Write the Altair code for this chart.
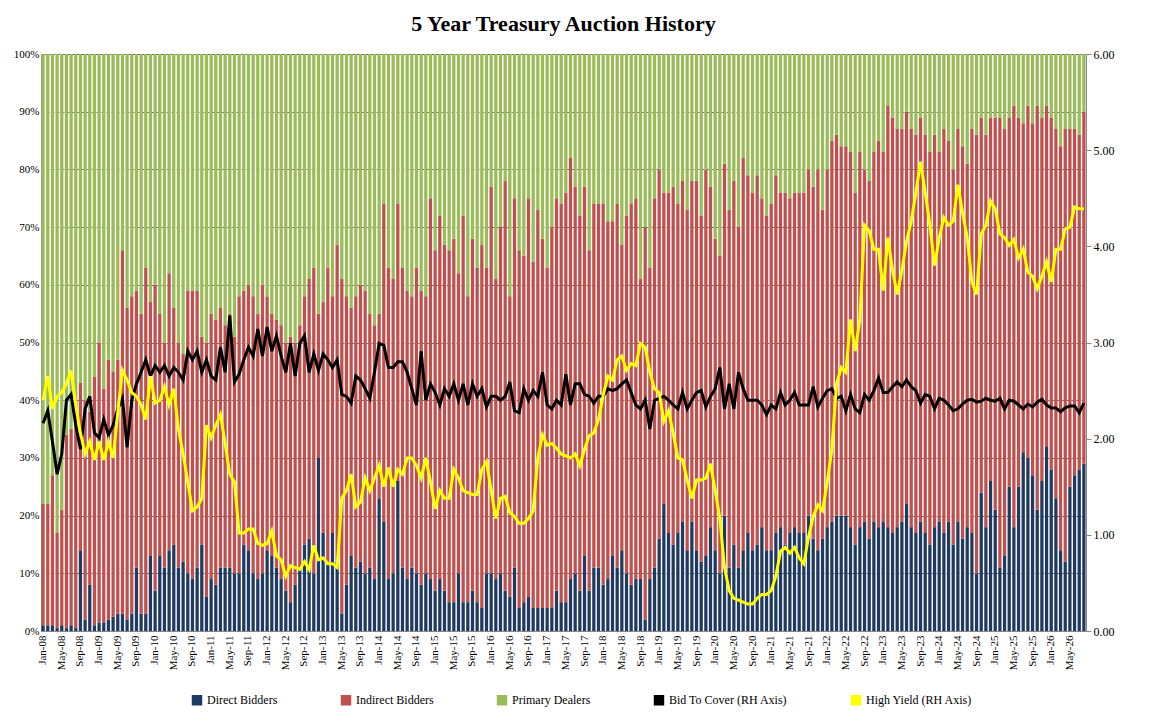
import altair as alt
import pandas as pd

# percent of auction awarded
direct = [
    1, 1, 1, 0.5, 1, 0.5, 1, 0.5, 14, 2, 8, 1,
    1.5, 1.5, 2, 2.5, 3, 3, 2, 3, 11, 3, 3, 13,
    7, 13, 11, 14, 15, 11, 12, 10, 9, 11, 15, 6,
    9, 8, 11, 11, 11, 10, 10, 15, 14, 10, 9, 10,
    14, 13, 11, 9, 7, 5, 8, 11, 15, 16, 10, 30,
    17, 12, 17, 12, 3, 8, 13, 11, 12, 10, 11, 9,
    23, 19, 9, 10, 26, 11, 9, 11, 10, 8, 10, 9,
    7, 9, 7, 5, 5, 10, 5, 5, 7, 5, 4, 10,
    10, 9, 10, 7, 6, 11, 4, 5, 6, 4, 4, 4,
    4, 4, 7, 5, 5, 9, 10, 7, 13, 7, 11, 11,
    8, 9, 13, 11, 14, 10, 8, 9, 9, 2, 9, 11,
    16, 22, 17, 15, 17, 19, 14, 19, 14, 12, 13, 18,
    14, 10, 20, 11, 15, 11, 14, 17, 14, 15, 18, 14,
    14, 17, 18, 15, 17, 18, 17, 17, 20, 16, 14, 16,
    18, 19, 20, 20, 20, 18, 15, 18, 19, 16, 19, 18,
    19, 18, 17, 18, 19, 22, 18, 17, 19, 17, 15, 18,
    19, 17, 19, 15, 19, 16, 18, 17, 10, 24, 18, 26,
    21, 11, 13, 25, 18, 25, 31, 30, 27, 21, 26, 32,
    28, 23, 14, 12, 25, 27, 28, 29,
]
# direct + indirect (top of the red bar)
dir_plus_indirect = [
    22, 22, 27, 17, 21, 34, 35, 40, 43, 40, 38, 44,
    50, 42, 47, 45, 47, 66, 56, 58, 59, 55, 63, 57,
    60, 55, 50, 62, 56, 50, 48, 59, 59, 59, 51, 50,
    55, 54, 56, 53, 55, 51, 58, 59, 60, 58, 55, 60,
    58, 55, 54, 53, 50, 51, 50, 53, 58, 61, 63, 55,
    57, 63, 58, 67, 61, 58, 56, 58, 60, 59, 55, 53,
    55, 74, 63, 61, 74, 63, 59, 58, 63, 59, 58, 75,
    66, 72, 67, 66, 68, 62, 72, 58, 68, 63, 67, 63,
    77, 61, 70, 78, 58, 75, 66, 65, 75, 64, 73, 68,
    63, 70, 75, 74, 76, 82, 77, 72, 77, 66, 74, 74,
    74, 71, 71, 74, 67, 72, 74, 75, 61, 70, 63, 75,
    80, 76, 76, 77, 74, 78, 73, 78, 78, 72, 80, 77,
    68, 65, 81, 73, 78, 70, 82, 79, 76, 79, 75, 72,
    74, 79, 76, 76, 75, 76, 76, 76, 80, 77, 80, 73,
    80, 85, 86, 84, 84, 83, 76, 83, 80, 78, 83, 85,
    83, 91, 89, 87, 87, 90, 87, 86, 89, 86, 83, 86,
    83, 87, 85, 80, 87, 84, 81, 87, 86, 89, 86, 89,
    89, 89, 87, 89, 91, 89, 88, 91, 88, 91, 89, 91,
    89, 87, 84, 87, 87, 87, 86, 90,
]
bid_to_cover = [
    2.16, 2.29, 1.97, 1.63, 1.84, 2.40, 2.46, 2.14, 1.89, 2.31, 2.44, 2.06,
    2.01, 2.20, 2.04, 2.14, 2.31, 2.42, 1.91, 2.40, 2.57, 2.69, 2.82, 2.65,
    2.76, 2.69, 2.76, 2.65, 2.74, 2.69, 2.61, 2.91, 2.82, 2.91, 2.69, 2.82,
    2.65, 2.61, 2.95, 2.69, 3.28, 2.59, 2.67, 2.82, 2.95, 2.86, 3.14, 2.86,
    3.16, 2.91, 3.07, 2.86, 2.69, 2.99, 2.65, 2.99, 3.07, 2.69, 2.88, 2.71,
    2.88, 2.82, 2.74, 2.82, 2.46, 2.44, 2.37, 2.65, 2.61, 2.52, 2.42, 2.69,
    2.99, 2.97, 2.74, 2.74, 2.80, 2.80, 2.69, 2.52, 2.35, 2.91, 2.40, 2.57,
    2.48, 2.35, 2.52, 2.44, 2.57, 2.40, 2.57, 2.35, 2.57, 2.44, 2.52, 2.33,
    2.44, 2.44, 2.40, 2.44, 2.59, 2.29, 2.27, 2.52, 2.40, 2.50, 2.44, 2.69,
    2.35, 2.31, 2.40, 2.35, 2.67, 2.35, 2.57, 2.57, 2.46, 2.44, 2.37, 2.44,
    2.44, 2.52, 2.50, 2.52, 2.57, 2.61, 2.48, 2.35, 2.31, 2.40, 2.10, 2.40,
    2.42, 2.44, 2.40, 2.35, 2.31, 2.48, 2.31, 2.40, 2.48, 2.50, 2.33, 2.44,
    2.52, 2.74, 2.31, 2.57, 2.31, 2.69, 2.52, 2.40, 2.40, 2.40, 2.35, 2.25,
    2.35, 2.31, 2.48, 2.35, 2.40, 2.48, 2.35, 2.35, 2.35, 2.54, 2.33, 2.42,
    2.50, 2.52, 2.42, 2.44, 2.29, 2.46, 2.31, 2.27, 2.46, 2.40, 2.50, 2.63,
    2.48, 2.48, 2.54, 2.59, 2.54, 2.61, 2.54, 2.50, 2.37, 2.46, 2.44, 2.31,
    2.42, 2.40, 2.35, 2.29, 2.31, 2.36, 2.40, 2.41, 2.38, 2.39, 2.42, 2.40,
    2.39, 2.42, 2.31, 2.40, 2.39, 2.35, 2.31, 2.36, 2.33, 2.38, 2.41, 2.35,
    2.32, 2.32, 2.28, 2.32, 2.34, 2.34, 2.27, 2.37,
]
high_yield = [
    2.40, 2.65, 2.31, 2.44, 2.48, 2.57, 2.71, 2.35, 2.06, 1.84, 1.97, 1.78,
    1.97, 1.78, 1.97, 1.80, 2.27, 2.71, 2.61, 2.48, 2.44, 2.35, 2.20, 2.65,
    2.37, 2.40, 2.54, 2.35, 2.52, 2.10, 1.84, 1.55, 1.25, 1.29, 1.38, 2.14,
    2.01, 2.14, 2.25, 1.95, 1.63, 1.55, 1.02, 1.02, 1.06, 1.06, 0.91, 0.89,
    0.91, 1.04, 0.78, 0.74, 0.57, 0.68, 0.66, 0.64, 0.72, 0.64, 0.89, 0.74,
    0.76, 0.70, 0.70, 0.66, 1.38, 1.46, 1.63, 1.29, 1.34, 1.59, 1.46, 1.59,
    1.72, 1.50, 1.70, 1.50, 1.68, 1.63, 1.80, 1.80, 1.72, 1.59, 1.80, 1.55,
    1.27, 1.46, 1.38, 1.38, 1.68, 1.59, 1.46, 1.44, 1.42, 1.42, 1.68, 1.76,
    1.46, 1.17, 1.38, 1.40, 1.23, 1.19, 1.12, 1.12, 1.17, 1.25, 1.80, 2.04,
    1.93, 1.95, 1.90, 1.84, 1.82, 1.80, 1.84, 1.72, 1.89, 2.03, 2.06, 2.20,
    2.45, 2.65, 2.61, 2.82, 2.86, 2.71, 2.78, 2.76, 2.99, 2.95, 2.69, 2.52,
    2.48, 2.18, 2.29, 2.06, 1.80, 1.78, 1.57, 1.38, 1.57, 1.57, 1.59, 1.74,
    1.46, 1.17, 0.66, 0.42, 0.34, 0.32, 0.30, 0.28, 0.28, 0.34, 0.38, 0.38,
    0.42, 0.57, 0.83, 0.87, 0.81, 0.87, 0.76, 0.70, 0.98, 1.19, 1.31, 1.25,
    1.55, 1.89, 2.57, 2.74, 2.69, 3.24, 2.91, 3.24, 4.22, 4.16, 3.97, 3.97,
    3.54, 4.09, 3.75, 3.50, 3.75, 4.05, 4.26, 4.56, 4.88, 4.56, 4.22, 3.80,
    4.09, 4.30, 4.22, 4.26, 4.64, 4.35, 4.09, 3.63, 3.50, 4.13, 4.22, 4.47,
    4.39, 4.13, 4.09, 4.01, 4.07, 3.88, 3.97, 3.73, 3.69, 3.56, 3.69, 3.84,
    3.63, 3.97, 3.97, 4.18, 4.20, 4.41, 4.39, 4.39,
]

month_names = ["Jan", "Feb", "Mar", "Apr", "May", "Jun",
               "Jul", "Aug", "Sep", "Oct", "Nov", "Dec"]
months = [f"{month_names[i % 12]}-{8 + i // 12:02d}" for i in range(len(direct))]

series = ["Direct Bidders", "Indirect Bidders", "Primary Dealers",
          "Bid To Cover (RH Axis)", "High Yield (RH Axis)"]
colors = ["#1f3a60", "#c0504d", "#9bbb59", "#000000", "#ffff00"]

bar_rows = []
line_rows = []
for i, m in enumerate(months):
    parts = [direct[i], dir_plus_indirect[i] - direct[i], 100 - dir_plus_indirect[i]]
    for k, v in enumerate(parts):
        bar_rows.append({"month": m, "series": series[k], "pct": v / 100, "order": k})
    line_rows.append({"month": m, "series": series[3], "val": bid_to_cover[i]})
    line_rows.append({"month": m, "series": series[4], "val": high_yield[i]})

bars_df = pd.DataFrame(bar_rows)
lines_df = pd.DataFrame(line_rows)

font = "Liberation Serif"
color = alt.Color("series:N", scale=alt.Scale(domain=series, range=colors),
                  legend=alt.Legend(orient="none", legendX=150, legendY=640,
                                    direction="horizontal", title=None,
                                    symbolType="square", symbolSize=80, labelFontSize=12,
                                    labelFont=font, columnPadding=60, labelColor="#000"))

x = alt.X("month:O", sort=months, title=None,
          scale=alt.Scale(paddingInner=0.3, paddingOuter=0.1),
          axis=alt.Axis(labelAngle=270, labelFont=font, labelFontSize=11, labelColor="#000",
                        labelExpr="indexof(['Jan','May','Sep'], slice(datum.value,0,3)) >= 0 ? datum.value : ''",
                        ticks=False, domainColor="#888", labelPadding=4))

bars = alt.Chart(bars_df).mark_bar().encode(
    x=x,
    y=alt.Y("pct:Q", stack="zero", title=None,
            scale=alt.Scale(domain=[0, 1]),
            axis=alt.Axis(format=".0%", values=[i / 10 for i in range(11)], labelFont=font,
                          labelFontSize=11, labelColor="#000", gridDash=[3, 2],
                          gridColor="#333", gridOpacity=0.7, domainColor="#888", ticks=False)),
    color=color,
    order=alt.Order("order:Q"),
)

lines = alt.Chart(lines_df).mark_line(strokeWidth=3).encode(
    x=x,
    y=alt.Y("val:Q", title=None, scale=alt.Scale(domain=[0, 6]),
            axis=alt.Axis(orient="right", format=".2f", values=[0, 1, 2, 3, 4, 5, 6],
                          labelFont=font, labelFontSize=12, labelColor="#000",
                          grid=False, domainColor="#888", tickColor="#888")),
    color=color,
    detail="series:N",
)

chart = alt.layer(bars, lines).resolve_scale(y="independent").properties(
    width=1045, height=577,
    title=alt.TitleParams("5 Year Treasury Auction History", font=font, fontSize=22,
                          fontWeight="bold", color="#000", offset=12),
).configure_view(stroke="#888")

chart.save("out.html", embed_options={"renderer": "svg", "actions": False})
